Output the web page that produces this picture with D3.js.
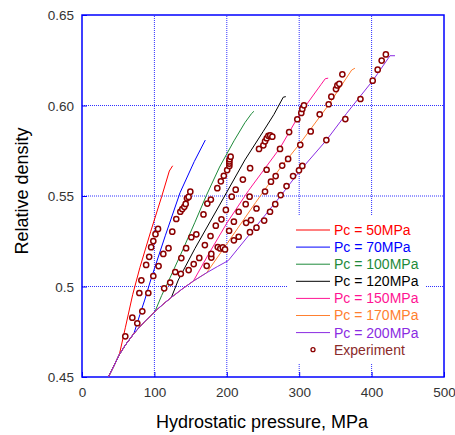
<!DOCTYPE html>
<html><head><meta charset="utf-8">
<script src="https://cdn.jsdelivr.net/npm/d3@7"></script>
<style>body{margin:0;background:#fff}svg{display:block}text{font-family:"Liberation Sans",Arial,sans-serif}</style>
</head><body>
<script>
const xTicks=[0,100,200,300,400,500];
const yTicks=[0.45,0.5,0.55,0.6,0.65];
const seriesNames=["Pc = 50MPa","Pc = 70MPa","Pc = 100MPa","Pc = 120MPa","Pc = 150MPa","Pc = 170MPa","Pc = 200MPa"];
const seriesColors=["#ff0000","#0000ff","#1e8a3a","#000000","#ff1493","#ff8030","#8a2be2"];
// hydrostatic compaction envelope
const envelope=[[36.4,0.45],[44,0.4561],[51.6,0.4624],[60,0.4677],[71.8,0.4741],[85,0.48],[100.8,0.4862],[112,0.4902],[123.5,0.494],[138,0.4985],[153.8,0.503],[172.2,0.5076],[187,0.511],[202,0.5143]];
const pc50=[[51.6,0.4624],[60,0.4775],[70,0.4955],[80,0.5105],[95,0.5305],[110,0.5496],[120.6,0.5638],[125.2,0.5667]];
const pc70=[[71.8,0.4741],[80,0.4845],[86.6,0.4925],[94.9,0.5036],[115,0.528],[135.4,0.5518],[155,0.569],[170.3,0.5809]];
const pc100=[[100.8,0.4862],[110,0.495],[120.2,0.5036],[140,0.521],[156,0.5355],[172,0.5505],[190,0.566],[210,0.5805],[225,0.5905],[234.3,0.5956],[237.5,0.5968]];
const pc120=[[123.5,0.494],[133,0.5036],[156,0.521],[190,0.545],[225,0.5699],[250,0.5855],[265,0.595],[278,0.6046],[281.5,0.6049]];
const pc150=[[153.8,0.503],[175,0.518],[200,0.535],[230,0.553],[273.5,0.5765],[301,0.5955],[330,0.6115],[336,0.6148],[340,0.6151]];
const pc170=[[172.2,0.5076],[200,0.5235],[240,0.5465],[273.5,0.5653],[301,0.579],[340,0.6],[372.5,0.6196],[377,0.6206]];
const pc200=[[202,0.5143],[240,0.533],[273.5,0.5496],[301.1,0.564],[337.5,0.5808],[365.6,0.5957],[402.3,0.6141],[425.4,0.6275],[432.3,0.6275]];
const experiment=[
[59.8,0.4725],[69.5,0.4828],[76.4,0.4797],[83.3,0.4863],[79.2,0.4964],[91.6,0.4964],[82.0,0.5034],[98.5,0.5058],[88.6,0.5119],[105.8,0.5113],[92.8,0.5164],[95.5,0.5217],[98.5,0.5251],[101.5,0.5289],[105.0,0.5318],
[112.3,0.518],[119.5,0.5212],[124.7,0.5303],[130.2,0.5373],[135.8,0.5413],[138.5,0.5428],[141.3,0.544],[143.2,0.5456],[145.0,0.5487],[147.3,0.5495],[149.6,0.5524],
[113.5,0.499],[121.8,0.5022],[128.8,0.508],[136.5,0.507],[137.2,0.5157],[143.8,0.5212],[151.0,0.5272],[157.9,0.5288],[167.8,0.5398],[173.1,0.5458],[178.0,0.548],[186.9,0.5543],[191.8,0.5581],[195.9,0.5612],[200.5,0.5643],[203.5,0.5666],[203.5,0.5679],[203.5,0.5691],[203.8,0.5703],[205.3,0.5717],
[147.3,0.5091],[154.3,0.5124],[162.0,0.5158],[169.7,0.5229],[177.5,0.5279],[184.8,0.5336],[192.6,0.5371],[198.7,0.5423],[206.8,0.5496],[212.3,0.5535],[222.2,0.5591],[232.2,0.5654],[244.5,0.576],[250.5,0.578],[252.8,0.5802],[255.1,0.5819],[257.4,0.5833],[260.0,0.5835],[262.9,0.5828],
[172.2,0.5114],[178.6,0.516],[178.6,0.518],[187.5,0.5218],[191.0,0.521],[194.5,0.5216],[197.5,0.5205],[203.2,0.5308],[209.8,0.5358],[216.4,0.5413],[226.1,0.5455],[231.5,0.5496],[255.0,0.5645],[273.5,0.576],[286.1,0.5853],[297.4,0.5924],[302.9,0.5959],[304.3,0.5981],[306.6,0.6001],
[209.8,0.5255],[216.4,0.5275],[232.0,0.53],[226.7,0.5352],[233.4,0.5367],[241.0,0.5325],[241.0,0.5431],[251.6,0.5364],[259.7,0.5413],[266.9,0.5455],[274.4,0.5505],[282.5,0.5555],[291.5,0.561],[299.7,0.5642],[304.3,0.5666],
[252.8,0.5525],[261.0,0.5579],[267.5,0.561],[276.5,0.5668],[284.7,0.5705],[301.5,0.5783],[315.9,0.5857],[328.3,0.5951],[340.7,0.6007],[344.4,0.6049],[350.8,0.6091],[352.7,0.6111],[355.4,0.612],[359.6,0.6172],
[337.5,0.5809],[363.7,0.5925],[384.6,0.6036],[401.5,0.6137],[408.4,0.6198],[413.9,0.6248],[419.7,0.6282]
];
const branches=[pc50,pc70,pc100,pc120,pc150,pc170,pc200];

const W=455,H=435;
const svg=d3.select("body").append("svg").attr("width",W).attr("height",H);
const x=d3.scaleLinear().domain([0,500]).range([82,444]);
const y=d3.scaleLinear().domain([0.45,0.65]).range([377,15]);

// grid
const grid=svg.append("g");
grid.selectAll("line.gx").data(xTicks.slice(1,-1)).join("line")
 .attr("x1",d=>x(d)).attr("x2",d=>x(d)).attr("y1",y(0.45)).attr("y2",y(0.65))
 .attr("stroke","#3030ff").attr("stroke-dasharray","1,1");
grid.selectAll("line.gy").data(yTicks.slice(1,-1)).join("line")
 .attr("y1",d=>y(d)).attr("y2",d=>y(d)).attr("x1",x(0)).attr("x2",x(500))
 .attr("stroke","#3030ff").attr("stroke-dasharray","1,1");

// axes
const xAxis=d3.axisBottom(x).tickValues(xTicks).tickSize(-5).tickPadding(10).tickFormat(d3.format("d"));
const yAxis=d3.axisLeft(y).tickValues(yTicks).tickSize(-5).tickPadding(8).tickFormat(d=>d===0.5?"0.5":d3.format(".2f")(d));
const gx=svg.append("g").attr("transform",`translate(0,${y(0.45)})`).call(xAxis);
const gy=svg.append("g").attr("transform",`translate(${x(0)},0)`).call(yAxis);
[gx,gy].forEach(g=>{g.select(".domain").remove();g.selectAll("line").attr("stroke","#0000ff");
 g.selectAll("text").attr("fill","#333").style("font-size","13.5px");});
gy.selectAll("text").attr("dy","0.35em");
svg.append("rect").attr("x",x(0)).attr("y",y(0.65)).attr("width",x(500)-x(0)).attr("height",y(0.45)-y(0.65))
 .attr("fill","none").attr("stroke","#0000ff").attr("stroke-width",1.5);

// series
const line=d3.line().x(d=>x(d[0])).y(d=>y(d[1]));
const clip=svg.append("g");
branches.forEach((b,i)=>{
 const pts=envelope.filter(p=>p[0]<b[0][0]).concat(b);
 clip.append("path").attr("d",line(pts)).attr("fill","none").attr("stroke",seriesColors[i]).attr("stroke-width",1);
});

// experiment
svg.append("g").selectAll("circle").data(experiment).join("circle")
 .attr("cx",d=>x(d[0])).attr("cy",d=>y(d[1])).attr("r",2.6)
 .attr("fill","#fff").attr("stroke","#8b0000").attr("stroke-width",1.5);

// legend
const lg=svg.append("g");
lg.append("rect").attr("x",287).attr("y",215).attr("width",139).attr("height",148).attr("fill","#fff");
seriesNames.forEach((n,i)=>{
 const yy=230+i*17.1;
 lg.append("line").attr("x1",296).attr("x2",330).attr("y1",yy).attr("y2",yy).attr("stroke",seriesColors[i]);
 lg.append("text").attr("x",334).attr("y",yy).attr("dy","0.35em").attr("fill",seriesColors[i]).style("font-size","14px").text(n);
});
const ey=230+7*17.1;
lg.append("circle").attr("cx",313).attr("cy",ey).attr("r",2).attr("fill","#fff").attr("stroke","#8b0000").attr("stroke-width",1.3);
lg.append("text").attr("x",334).attr("y",ey).attr("dy","0.35em").attr("fill","#8b2a2a").style("font-size","14px").text("Experiment");

// titles
svg.append("text").attr("x",262).attr("y",428).attr("text-anchor","middle").style("font-size","18px").attr("fill","#000").text("Hydrostatic pressure, MPa");
svg.append("text").attr("transform","translate(28,191) rotate(-90)").attr("text-anchor","middle").style("font-size","18px").attr("fill","#000").text("Relative density");
</script>
</body></html>
